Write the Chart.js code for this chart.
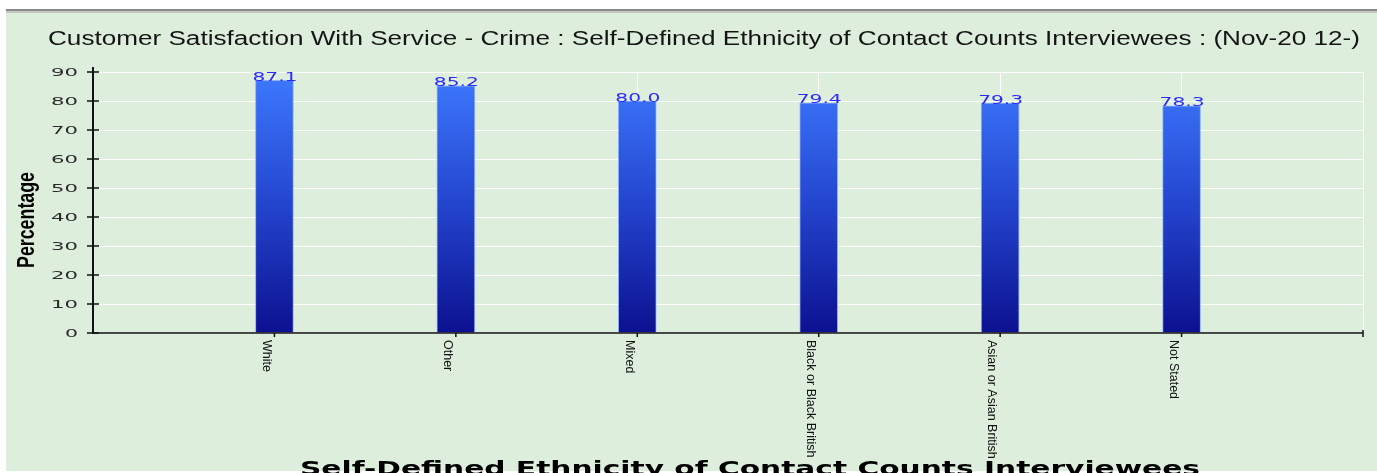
<!DOCTYPE html>
<html>
<head>
<meta charset="utf-8">
<title>Customer Satisfaction - Ethnicity</title>
<script src="https://cdn.jsdelivr.net/npm/chart.js@4.4.1/dist/chart.umd.min.js"></script>
<style>
  html, body { margin: 0; padding: 0; background: #fff; }
  #wrap { width: 1377px; height: 473px; position: relative; }
</style>
</head>
<body>
<div id="wrap"><canvas id="chart" width="1377" height="473"></canvas></div>
<script>
// data
const chartTitle = 'Customer Satisfaction With Service - Crime : Self-Defined Ethnicity of Contact Counts Interviewees : (Nov-20 12-)';
const xTitle = 'Self-Defined Ethnicity of Contact Counts Interviewees';
const yTitle = 'Percentage';
const categories = ['White', 'Other', 'Mixed', 'Black or Black British', 'Asian or Asian British', 'Not Stated'];
const satisfaction = [87.1, 85.2, 80.0, 79.4, 79.3, 78.3];
const yTicks = [0, 10, 20, 30, 40, 50, 60, 70, 80, 90];

// empty slot before and after so the bars sit like the original
const labels = [''].concat(categories, ['']);
const values = [null].concat(satisfaction, [null]);

const BG = '#ddeedc';

// draw text squeezed/stretched to a given width
function fitText(ctx, text, x, y, width) {
    const w = ctx.measureText(text).width;
    ctx.save();
    ctx.translate(x, y);
    ctx.scale(width / w, 1);
    ctx.fillText(text, 0, 0);
    ctx.restore();
}

const decorPlugin = {
    id: 'decor',
    beforeDraw(chart) {
        const ctx = chart.ctx;
        ctx.save();
        ctx.fillStyle = '#fff';
        ctx.fillRect(0, 0, chart.width, chart.height);
        ctx.fillStyle = BG;
        ctx.fillRect(6, 13, chart.width - 6, 458);
        ctx.fillStyle = '#8a8a8a';
        ctx.fillRect(6, 9, chart.width - 6, 2);
        ctx.fillStyle = '#c4c4c4';
        ctx.fillRect(6, 11, chart.width - 6, 2);

        // title
        ctx.fillStyle = '#141414';
        ctx.font = '20px "Liberation Sans", Arial, sans-serif';
        ctx.textAlign = 'left';
        ctx.textBaseline = 'alphabetic';
        fitText(ctx, chartTitle, 48, 45, 1312);
        ctx.restore();
    },
    afterDraw(chart) {
        const ctx = chart.ctx;
        const xs = chart.scales.x, ys = chart.scales.y;
        const area = chart.chartArea;
        ctx.save();

        // axes
        ctx.strokeStyle = '#111';
        ctx.lineWidth = 2;
        ctx.beginPath();
        ctx.moveTo(area.left, area.top - 5);
        ctx.lineTo(area.left, area.bottom + 1);
        ctx.stroke();
        ctx.lineWidth = 1.5;
        ctx.beginPath();
        ctx.moveTo(area.left, area.bottom);
        ctx.lineTo(area.right, area.bottom);
        ctx.moveTo(area.right, area.bottom - 3);
        ctx.lineTo(area.right, area.bottom + 4);
        ctx.stroke();

        // y ticks and labels
        ctx.lineWidth = 1.5;
        ctx.fillStyle = '#2a2a2a';
        ctx.font = '11px "DejaVu Sans", sans-serif';
        ctx.textAlign = 'left';
        ctx.textBaseline = 'middle';
        yTicks.forEach(v => {
            const py = ys.getPixelForValue(v);
            ctx.beginPath();
            ctx.moveTo(area.left - 6, py);
            ctx.lineTo(area.left + 6, py);
            ctx.stroke();
            const s = String(v);
            const w = s.length === 1 ? 13 : 27;
            fitText(ctx, s, 78 - w, py + 1, w);
        });

        // x ticks and rotated labels
        ctx.font = '12.5px "Liberation Sans Narrow", "Liberation Sans", sans-serif';
        ctx.fillStyle = '#111';
        categories.forEach((c, i) => {
            const px = xs.getPixelForTick(i + 1);
            ctx.lineWidth = 1.5;
            ctx.beginPath();
            ctx.moveTo(px, area.bottom);
            ctx.lineTo(px, area.bottom + 4);
            ctx.stroke();
            ctx.save();
            ctx.translate(px - 2, area.bottom + 7);
            ctx.rotate(Math.PI / 2);
            ctx.textAlign = 'left';
            ctx.textBaseline = 'top';
            ctx.fillText(c, 0, 0);
            ctx.restore();
        });

        // value labels above bars
        const meta = chart.getDatasetMeta(0);
        ctx.fillStyle = '#2b2bff';
        ctx.font = '12px "DejaVu Sans", sans-serif';
        ctx.textAlign = 'left';
        ctx.textBaseline = 'alphabetic';
        meta.data.forEach((bar, i) => {
            const v = values[i];
            if (v === null) return;
            const s = v.toFixed(1);
            fitText(ctx, s, bar.x - 22, bar.y + 0.5, 45);
        });

        // y title
        ctx.fillStyle = '#000';
        ctx.font = 'bold 23px "Liberation Sans Narrow", "Liberation Sans", sans-serif';
        ctx.save();
        ctx.translate(34, 220);
        ctx.rotate(-Math.PI / 2);
        ctx.textAlign = 'left';
        ctx.textBaseline = 'alphabetic';
        fitText(ctx, yTitle, -48, 0, 96);
        ctx.restore();

        // x title (cut off at the bottom like the original)
        ctx.font = 'bold 20px "DejaVu Sans", sans-serif';
        fitText(ctx, xTitle, 300, 475, 900);
        ctx.restore();
    }
};

const ctx = document.getElementById('chart').getContext('2d');
new Chart(ctx, {
    type: 'bar',
    data: {
        labels: labels,
        datasets: [{
            data: values,
            barThickness: 38,
            borderColor: '#8fb0ff',
            borderWidth: 1,
            backgroundColor: (c) => {
                const area = c.chart.chartArea;
                if (!area) return '#2a55dd';
                const g = c.chart.ctx.createLinearGradient(0, area.top, 0, area.bottom);
                g.addColorStop(0, '#3d7aff');
                g.addColorStop(0.5, '#2446cf');
                g.addColorStop(1, '#0c1190');
                return g;
            }
        }]
    },
    options: {
        responsive: false,
        animation: false,
        layout: { padding: { left: 0, right: 14, top: 72, bottom: 0 } },
        plugins: {
            legend: { display: false },
            tooltip: { enabled: false },
            title: { display: false }
        },
        scales: {
            x: {
                offset: false,
                grid: { color: '#fff', lineWidth: 1, drawTicks: false, offset: false },
                border: { display: false },
                ticks: { display: false },
                afterFit: (s) => { s.height = 140; }
            },
            y: {
                min: 0,
                max: 90,
                grid: { color: '#fff', lineWidth: 1, drawTicks: false },
                border: { display: false },
                ticks: { display: false, stepSize: 10 },
                afterFit: (s) => { s.width = 93; }
            }
        }
    },
    plugins: [decorPlugin]
});
</script>
</body>
</html>
